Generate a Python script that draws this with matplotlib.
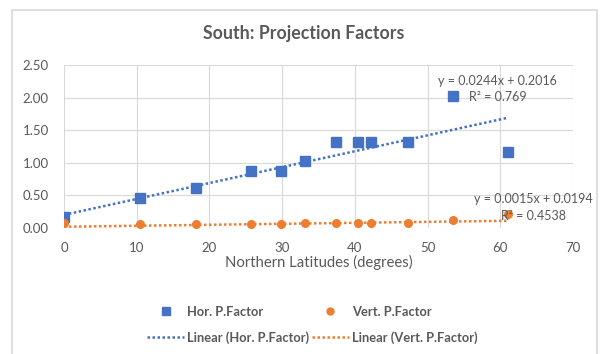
import matplotlib
matplotlib.use("Agg")
import matplotlib.pyplot as plt
import numpy as np
from matplotlib.lines import Line2D
from matplotlib.patches import Rectangle

plt.rcParams['font.family'] = ['Lato', 'DejaVu Sans']

latitudes = [0, 10.4, 18.2, 25.7, 29.8, 33.1, 37.4, 40.5, 42.2, 47.3, 53.5, 61.0]
hor_factor = [0.17, 0.46, 0.61, 0.87, 0.88, 1.03, 1.32, 1.32, 1.32, 1.32, 2.03, 1.17]
vert_factor = [0.07, 0.06, 0.06, 0.06, 0.06, 0.08, 0.08, 0.08, 0.08, 0.07, 0.13, 0.21]
hor_fit = [0.0244, 0.2016]
vert_fit = [0.0015, 0.0194]
hor_eq = ["y = 0.0244x + 0.2016", "R² = 0.769"]
vert_eq = ["y = 0.0015x + 0.0194", "R² = 0.4538"]

blue = "#4472C4"
orange = "#ED7D31"
txt = "#595959"

fig = plt.figure(figsize=(6.0, 3.54), dpi=100)
fig.patches.append(Rectangle((12/600, -0.05), 585/600, 1.05 - 10/354, transform=fig.transFigure,
                             fill=False, edgecolor="#d9d9d9", lw=1.2))
ax = fig.add_axes([64/600, 1-228/354, (573-64)/600, (228-65)/354])

x = np.array(latitudes)
for yv, fit, col, mk, ms in [(hor_factor, hor_fit, blue, 's', 6.5),
                              (vert_factor, vert_fit, orange, 'o', 5.5)]:
    y = np.array(yv)
    ax.plot(x, y, linestyle='none', marker=mk, color=col, markersize=ms, zorder=3)
    xs = np.array([x.min(), x.max()])
    ax.plot(xs, np.polyval(fit, xs), linestyle=(0, (1, 1)), color=col, lw=1.8, zorder=2)

ax.set_xlim(0, 70)
ax.set_ylim(0, 2.5)
ax.set_xticks(np.arange(0, 71, 10))
ax.set_yticks(np.arange(0, 2.51, 0.5))
ax.set_yticklabels([f"{v:.2f}" for v in np.arange(0, 2.51, 0.5)])
ax.grid(True, color="#d9d9d9", lw=0.8)
ax.set_axisbelow(True)
for s in ax.spines.values():
    s.set_visible(False)
ax.tick_params(axis='x', length=0, colors=txt, labelsize=9.5, pad=10)
ax.tick_params(axis='y', length=0, colors=txt, labelsize=9.5, pad=11)
ax.set_xlabel("Northern Latitudes (degrees)", color=txt, fontsize=10.7, labelpad=1)

ax.text(59.55, 2.255, hor_eq[0], color=txt, fontsize=9, ha='center', va='center')
ax.text(59.6, 2.01, hor_eq[1], color=txt, fontsize=9, ha='center', va='center')
ax.text(64.5, 0.445, vert_eq[0], color=txt, fontsize=9, ha='center', va='center')
ax.text(64.5, 0.18, vert_eq[1], color=txt, fontsize=9, ha='center', va='center')

fig.text(304/600, 1-33/354, "South: Projection Factors", ha='center', va='center',
         color=txt, fontsize=12.8, fontweight='bold')

handles = [Line2D([], [], linestyle='none', marker='s', color=blue, markersize=6),
           Line2D([], [], linestyle='none', marker='o', color=orange, markersize=5),
           Line2D([], [], linestyle=(0, (1, 1)), color=blue, lw=1.8),
           Line2D([], [], linestyle=(0, (1, 1)), color=orange, lw=1.8)]
labels = ["Hor. P.Factor", "Vert. P.Factor", "Linear (Hor. P.Factor)", "Linear (Vert. P.Factor)"]
leg = fig.legend([handles[0], handles[2], handles[1], handles[3]],
                 [labels[0], labels[2], labels[1], labels[3]],
                 ncol=2, loc='center', bbox_to_anchor=(312/600, 1-325/354),
                 frameon=False, fontsize=9.3, handlelength=2.9, handletextpad=0.2,
                 columnspacing=0.2, labelspacing=1.05)
for t in leg.get_texts():
    t.set_color(txt)
    t.set_fontweight('bold')

fig.savefig("out.png", dpi=100)
